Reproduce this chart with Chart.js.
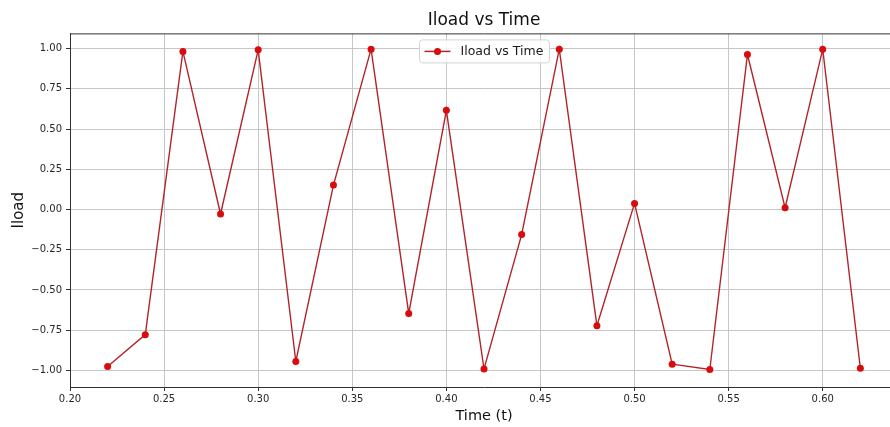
<!DOCTYPE html>
<html lang="en">
<head>
<meta charset="UTF-8" />
<title>Iload vs Time</title>
<script src="https://cdn.jsdelivr.net/npm/chart.js"></script>
<style>
  html, body { margin: 0; padding: 0; background: #ffffff; overflow: hidden; }
  /* the reference figure is cut off on the right, so the canvas runs past the window */
  #wrap { width: 902px; height: 427px; }
</style>
</head>
<body>
<div id="wrap"><canvas id="chart"></canvas></div>
<script>
  // data
  const times = [0.22, 0.24, 0.26, 0.28, 0.30, 0.32, 0.34, 0.36, 0.38, 0.40, 0.42,
                 0.44, 0.46, 0.48, 0.50, 0.52, 0.54, 0.56, 0.58, 0.60, 0.62];
  const iload = [-0.976, -0.778, 0.983, -0.028, 0.993, -0.945, 0.152, 0.997, -0.646, 0.617, -0.991,
                 -0.156, 0.997, -0.722, 0.038, -0.962, -0.995, 0.964, 0.011, 0.997, -0.987];
  const xTickValues = [0.20, 0.25, 0.30, 0.35, 0.40, 0.45, 0.50, 0.55, 0.60];
  const yTickValues = [-1.00, -0.75, -0.50, -0.25, 0.00, 0.25, 0.50, 0.75, 1.00];
  const seriesLabel = 'Iload vs Time';

  const FONT = "'DejaVu Sans', sans-serif";
  const fmt = (v) => v.toFixed(2).replace('-', '\u2212');

  // top + right spines (matplotlib box look)
  const spines = {
    id: 'spines',
    afterDraw(chart) {
      const { ctx, chartArea: a } = chart;
      ctx.save();
      ctx.strokeStyle = '#333333';
      ctx.lineWidth = 1;
      ctx.beginPath();
      ctx.moveTo(a.left, a.top + 0.5);
      ctx.lineTo(a.right - 0.5, a.top + 0.5);
      ctx.lineTo(a.right - 0.5, a.bottom);
      ctx.stroke();
      ctx.restore();
    }
  };

  // legend box drawn inside the axes, like matplotlib's "best" spot
  const innerLegend = {
    id: 'innerLegend',
    afterDraw(chart) {
      const { ctx, chartArea: a } = chart;
      const ds = chart.data.datasets[0];
      const cx = (a.left + a.right) / 2;
      const w = 130, h = 23;
      const x0 = Math.round(cx - w / 2) + 0.5;
      const y0 = a.top + 6.5;
      ctx.save();
      ctx.fillStyle = 'rgba(255,255,255,0.85)';
      ctx.strokeStyle = '#d4d4d4';
      ctx.lineWidth = 1;
      ctx.beginPath();
      ctx.roundRect(x0, y0, w, h, 3);
      ctx.fill();
      ctx.stroke();
      const my = y0 + h / 2;
      ctx.strokeStyle = ds.borderColor;
      ctx.lineWidth = 1.5;
      ctx.beginPath();
      ctx.moveTo(x0 + 5, my);
      ctx.lineTo(x0 + 31, my);
      ctx.stroke();
      ctx.fillStyle = ds.pointBackgroundColor;
      ctx.beginPath();
      ctx.arc(x0 + 18, my, 3.5, 0, Math.PI * 2);
      ctx.fill();
      ctx.fillStyle = '#1a1a1a';
      ctx.font = '12.5px ' + FONT;
      ctx.textBaseline = 'middle';
      ctx.fillText(ds.label, x0 + 41, my + 0.5);
      ctx.restore();
    }
  };

  const ctx = document.getElementById('chart').getContext('2d');
  new Chart(ctx, {
    type: 'line',
    data: {
      datasets: [{
        label: seriesLabel,
        data: times.map((t, i) => ({ x: t, y: iload[i] })),
        borderColor: '#b3242a',
        borderWidth: 1.4,
        pointBackgroundColor: '#d80c0c',
        pointBorderColor: '#d80c0c',
        pointRadius: 3.5,
        pointBorderWidth: 0,
        tension: 0,
        fill: false,
      }],
    },
    options: {
      responsive: true,
      maintainAspectRatio: false,
      animation: false,
      layout: { padding: { left: 0, right: 0, top: 0, bottom: 0 } },
      plugins: {
        legend: { display: false },
        tooltip: { enabled: false },
        title: {
          display: true,
          text: seriesLabel,
          fullSize: false,
          color: '#111111',
          font: { family: FONT, size: 17, weight: 'normal' },
          padding: { top: 10, bottom: 3 },
        },
      },
      scales: {
        x: {
          type: 'linear',
          min: 0.2,
          max: 0.64,
          afterBuildTicks: (s) => { s.ticks = xTickValues.map((v) => ({ value: v })); },
          afterFit: (s) => { s.height = 40; },
          grid: { color: '#c6c6c6', lineWidth: 1, tickLength: 4, tickColor: '#333333' },
          border: { display: true, color: '#333333', width: 1 },
          ticks: {
            color: '#262626',
            font: { family: FONT, size: 10 },
            padding: 2,
            maxRotation: 0,
            callback: (v) => fmt(v),
          },
          title: {
            display: true,
            text: 'Time (t)',
            color: '#111111',
            font: { family: FONT, size: 14.5 },
            padding: { top: 0, bottom: 2 },
          },
        },
        y: {
          type: 'linear',
          min: -1.1035,
          max: 1.095,
          afterBuildTicks: (s) => { s.ticks = yTickValues.map((v) => ({ value: v })); },
          afterFit: (s) => { s.width = 70; },
          grid: { color: '#c6c6c6', lineWidth: 1, tickLength: 4, tickColor: '#333333' },
          border: { display: true, color: '#333333', width: 1 },
          ticks: {
            color: '#262626',
            font: { family: FONT, size: 10 },
            padding: 4,
            callback: (v) => fmt(v),
          },
          title: {
            display: true,
            text: 'Iload',
            color: '#111111',
            font: { family: FONT, size: 15 },
            padding: { top: 10, bottom: 0 },
          },
        },
      },
    },
    plugins: [spines, innerLegend],
  });
</script>
</body>
</html>
